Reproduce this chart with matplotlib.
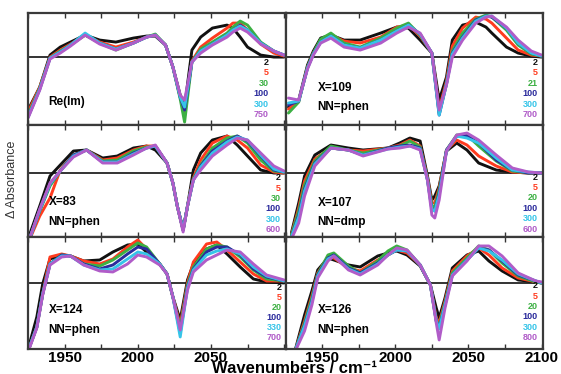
import matplotlib
matplotlib.use("Agg")
import matplotlib.pyplot as plt
from matplotlib.ticker import MultipleLocator

plt.rcParams['font.family'] = ['Liberation Sans', 'DejaVu Sans']

# series colours (delay times, shortest to longest)
colors = ['#111111', '#ff3b1f', '#3cb043', '#2b2b9c', '#35c4e8', '#b05cc8']

# --- Re(Im) ---
x_re = [1925, 1933, 1940, 1947, 1954, 1964, 1974, 1985, 1997, 2006, 2012, 2019, 2024,
        2029, 2032, 2037, 2043, 2051, 2061, 2065, 2070, 2075, 2084, 2093, 2100]
y_re = [
    [-53, -30, 2, 10, 15, 22, 17, 15, 19, 21, 21, 12, -10, -38, -50, 7, 20, 29, 32, 29, 20, 10, 2, 0, 0],
    [-55, -30, 0, 7, 13, 22, 15, 10, 15, 20, 22, 12, -10, -40, -55, -4, 10, 19, 29, 34, 34, 27, 13, 4, 1],
    [-58, -31, -1, 6, 12, 22, 14, 7, 14, 20, 23, 12, -10, -42, -65, -5, 8, 15, 24, 30, 36, 32, 15, 6, 2],
    [-60, -32, -1, 5, 12, 23, 14, 8, 14, 20, 22, 12, -10, -40, -53, -5, 6, 13, 22, 27, 32, 27, 14, 6, 2],
    [-60, -32, -1, 5, 12, 24, 14, 8, 14, 20, 22, 12, -10, -40, -50, -5, 6, 13, 22, 27, 31, 27, 14, 6, 2],
    [-61, -33, -2, 4, 11, 22, 13, 7, 14, 20, 22, 12, -10, -38, -43, -5, 4, 12, 20, 25, 29, 25, 13, 6, 2],
]
t_re = ['2', '5', '30', '100', '300', '750']

# --- X=109, NN=phen ---
x_109 = [1927, 1934, 1940, 1944, 1949, 1956, 1965, 1976, 1990, 2001, 2009, 2017, 2025,
         2030, 2035, 2039, 2046, 2055, 2062, 2066, 2076, 2084, 2093, 2100]
y_109 = [
    [-50, -43, -8, 6, 19, 22, 17, 17, 24, 30, 29, 17, 4, -43, -20, 17, 32, 35, 30, 24, 10, 4, 1, 0],
    [-52, -44, -10, 4, 17, 22, 16, 14, 20, 30, 32, 21, 4, -52, -24, 11, 29, 40, 38, 34, 19, 7, 2, 1],
    [-56, -45, -10, 4, 18, 24, 14, 10, 19, 29, 34, 22, 4, -56, -26, 6, 24, 38, 42, 40, 27, 12, 3, 1],
    [-48, -44, -11, 3, 15, 21, 12, 9, 17, 26, 32, 23, 4, -58, -27, 4, 20, 37, 41, 40, 29, 14, 4, 1],
    [-46, -44, -11, 3, 15, 21, 12, 9, 17, 26, 32, 23, 4, -58, -27, 3, 19, 36, 41, 41, 29, 14, 4, 1],
    [-41, -43, -12, 2, 14, 19, 10, 7, 14, 24, 30, 24, 4, -53, -28, 0, 17, 34, 40, 41, 30, 17, 6, 2],
]
t_109 = ['2', '5', '21', '100', '300', '700']

# --- X=83, NN=phen ---
x_83 = [1925, 1933, 1940, 1947, 1956, 1965, 1976, 1986, 1997, 2006, 2012, 2020, 2024,
        2027, 2031, 2034, 2038, 2043, 2051, 2061, 2068, 2075, 2084, 2093, 2100]
y_83 = [
    [-66, -33, -3, 8, 22, 23, 15, 17, 25, 27, 23, 10, -10, -33, -57, -33, 3, 20, 33, 37, 28, 17, 3, 0, 0],
    [-70, -43, -25, 3, 18, 23, 13, 15, 23, 27, 27, 10, -10, -33, -57, -33, -5, 13, 30, 37, 33, 25, 8, 1, 0],
    [-70, -38, -13, 2, 18, 23, 12, 13, 22, 26, 27, 10, -10, -33, -57, -33, -6, 8, 25, 35, 37, 30, 13, 2, 1],
    [-70, -37, -11, 2, 18, 23, 11, 11, 20, 25, 27, 10, -10, -33, -57, -33, -7, 7, 22, 32, 37, 32, 17, 3, 1],
    [-70, -37, -11, 2, 17, 23, 11, 11, 19, 25, 27, 10, -10, -33, -57, -33, -7, 6, 20, 31, 36, 33, 18, 4, 1],
    [-70, -36, -10, 2, 16, 23, 10, 10, 18, 25, 28, 10, -10, -33, -59, -33, -7, 3, 17, 28, 35, 33, 20, 7, 2],
]
t_83 = ['2', '5', '30', '100', '300', '600']

# --- X=107, NN=dmp ---
x_107 = [1929, 1934, 1938, 1945, 1956, 1968, 1978, 1995, 2003, 2010, 2017, 2022, 2025,
         2027, 2030, 2035, 2042, 2049, 2057, 2069, 2080, 2091, 2100]
y_107 = [
    [-60, -30, -3, 18, 28, 25, 23, 25, 30, 35, 32, -3, -27, -23, -13, 22, 30, 23, 10, 3, 1, 0, 0],
    [-62, -35, -8, 14, 25, 23, 22, 25, 28, 33, 27, -5, -30, -30, -15, 23, 33, 28, 17, 7, 1, 0, 0],
    [-62, -38, -12, 12, 27, 23, 20, 25, 27, 32, 26, -6, -33, -34, -17, 23, 38, 38, 27, 12, 2, 0, 0],
    [-64, -42, -16, 10, 25, 23, 18, 25, 27, 28, 25, -7, -36, -38, -20, 23, 37, 37, 30, 13, 3, 0, 0],
    [-64, -44, -18, 9, 25, 23, 18, 24, 26, 27, 24, -7, -37, -38, -22, 22, 37, 35, 30, 15, 3, 1, 0],
    [-66, -50, -23, 7, 25, 23, 17, 24, 25, 27, 23, -7, -42, -45, -27, 22, 38, 40, 33, 18, 5, 1, 0],
]
t_107 = ['2', '5', '20', '100', '300', '600']

# --- X=124, NN=phen ---
x_124 = [1926, 1931, 1935, 1940, 1948, 1954, 1963, 1974, 1983, 1993, 2000, 2006, 2015,
         2020, 2024, 2029, 2034, 2038, 2047, 2054, 2061, 2070, 2079, 2088, 2100]
y_124 = [
    [-61, -34, -1, 24, 28, 27, 22, 23, 31, 38, 39, 31, 19, 9, -14, -37, 3, 19, 34, 38, 29, 16, 4, 1, 0],
    [-64, -44, -11, 26, 29, 27, 22, 19, 24, 36, 43, 34, 19, 9, -14, -42, 0, 21, 39, 41, 33, 21, 9, 2, 2],
    [-64, -44, -11, 19, 28, 27, 19, 17, 23, 33, 40, 36, 19, 9, -14, -45, -2, 16, 34, 38, 36, 26, 13, 4, 2],
    [-64, -44, -11, 19, 28, 27, 19, 14, 18, 29, 36, 34, 19, 9, -14, -50, -4, 14, 31, 36, 36, 28, 14, 6, 2],
    [-64, -44, -11, 19, 27, 27, 18, 13, 14, 24, 31, 29, 19, 9, -14, -54, -5, 13, 28, 32, 34, 29, 16, 7, 2],
    [-65, -45, -12, 18, 26, 27, 18, 12, 11, 19, 28, 26, 18, 9, -14, -47, -7, 11, 23, 28, 33, 31, 19, 8, 3],
]
t_124 = ['2', '5', '20', '100', '330', '700']

# --- X=126, NN=phen ---
x_126 = [1932, 1938, 1943, 1947, 1954, 1958, 1968, 1976, 1988, 1995, 2001, 2008, 2017,
         2024, 2028, 2030, 2034, 2039, 2049, 2057, 2064, 2073, 2084, 2096, 2100]
y_126 = [
    [-65, -32, -8, 13, 25, 23, 18, 16, 27, 30, 32, 28, 17, -2, -25, -35, -15, 15, 28, 32, 22, 12, 3, 1, 0],
    [-66, -38, -13, 10, 26, 25, 15, 12, 23, 28, 33, 30, 18, -2, -35, -40, -18, 12, 27, 35, 28, 15, 5, 1, 0],
    [-66, -40, -15, 9, 28, 30, 17, 10, 22, 32, 37, 33, 18, -2, -38, -43, -20, 10, 25, 37, 33, 20, 7, 1, 0],
    [-66, -42, -18, 8, 25, 28, 15, 10, 20, 28, 33, 32, 18, -2, -38, -45, -22, 8, 23, 35, 33, 22, 8, 2, 0],
    [-66, -43, -19, 7, 24, 27, 14, 9, 19, 28, 33, 32, 18, -2, -38, -46, -22, 8, 23, 35, 32, 23, 9, 2, 0],
    [-67, -48, -22, 5, 22, 27, 13, 8, 18, 28, 35, 33, 18, -2, -40, -57, -25, 7, 22, 37, 37, 27, 10, 2, 1],
]
t_126 = ['2', '5', '20', '100', '300', '800']

# data, delay tags, sample name, y range, name y, legend right / top / step
panels = [
    (x_re, y_re, t_re, 'Re(Im)', (-68, 44), 0.21, 0.935, 0.56, 0.094),
    (x_109, y_109, t_109, 'X=109\n\nNN=phen', (-68, 44), 0.245, 0.978, 0.56, 0.094),
    (x_83, y_83, t_83, 'X=83\n\nNN=phen', (-64, 48), 0.225, 0.98, 0.53, 0.093),
    (x_107, y_107, t_107, 'X=107\n\nNN=dmp', (-64, 48), 0.22, 0.978, 0.535, 0.093),
    (x_124, y_124, t_124, 'X=124\n\nNN=phen', (-66, 46), 0.26, 0.985, 0.55, 0.09),
    (x_126, y_126, t_126, 'X=126\n\nNN=phen', (-66, 46), 0.26, 0.98, 0.565, 0.093),
]

fig = plt.figure(figsize=(5.61, 3.74), dpi=100)
gs = fig.add_gridspec(3, 2, left=0.05, right=0.968, top=0.965, bottom=0.067,
                      wspace=0, hspace=0)

for i, (xs, ys, tags, name, ylim, name_y, leg_x, leg_y, leg_dy) in enumerate(panels):
    ax = fig.add_subplot(gs[i // 2, i % 2])
    ax.axhline(0, color='#111111', lw=1.2, zorder=1)
    for y, c in zip(ys, colors):
        ax.plot(xs, y, color=c, lw=2.1, solid_joinstyle='round',
                solid_capstyle='round', zorder=2)
    ax.set_xlim(1925, 2101)
    ax.set_ylim(*ylim)
    ax.set_yticks([])
    ax.xaxis.set_major_locator(MultipleLocator(50))
    ax.xaxis.set_minor_locator(MultipleLocator(25))
    ax.tick_params(axis='x', which='both', direction='in', top=True, bottom=True,
                   length=3.5, width=1, color='#333333')
    for s in ax.spines.values():
        s.set_linewidth(1.6)
        s.set_color('#3a3a3a')
    if i >= 4:
        ax.set_xticks([1950, 2000, 2050] if i == 4 else [1950, 2000, 2050, 2100])
        ax.xaxis.set_minor_locator(MultipleLocator(25))
        ax.tick_params(axis='x', labelsize=11, pad=1.5)
        for lab in ax.get_xticklabels():
            lab.set_fontweight('bold')
    else:
        ax.tick_params(axis='x', labelbottom=False)

    # sample name
    ax.text(0.08 if i % 2 == 0 else 0.125, name_y, name,
            transform=ax.transAxes, fontsize=8.5, fontweight='bold',
            va='center', ha='left', linespacing=0.75)
    # delay legend
    for k, (tag, c) in enumerate(zip(tags, colors)):
        ax.text(leg_x, leg_y - k * leg_dy, tag, transform=ax.transAxes,
                color=c, fontsize=6.5, fontweight='bold', ha='right', va='center')

fig.text(0.022, 0.52, 'Δ Absorbance', rotation=90, fontsize=9, color='#333333',
         ha='center', va='center')
fig.text(0.525, 0.004, 'Wavenumbers / cm⁻¹', fontsize=12, fontweight='bold',
         ha='center', va='baseline')

fig.savefig('out.png', dpi=100)
